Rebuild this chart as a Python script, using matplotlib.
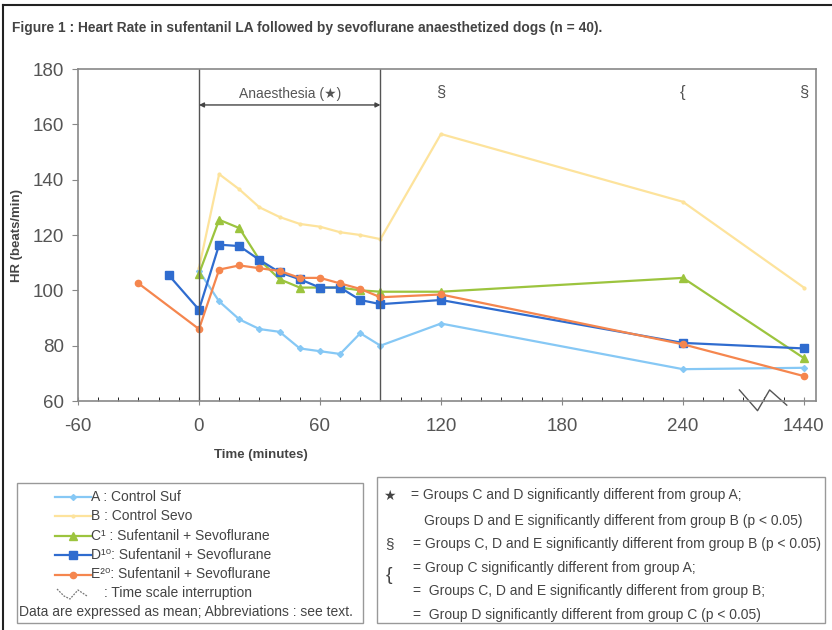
import numpy as np
import matplotlib.pyplot as plt
from matplotlib.lines import Line2D
from matplotlib.patches import Rectangle

plt.rcParams['font.family'] = ['Liberation Sans', 'DejaVu Sans']

# 1440 min is drawn after a scale break, at the position of 300 min
TICK_POS = [-60, 0, 60, 120, 180, 240, 300]
TICK_LABELS = ['-60', '0', '60', '120', '180', '240', '1440']

t_main = [0, 10, 20, 30, 40, 50, 60, 70, 80, 90, 120, 240, 300]
hr_a = [107, 96, 89.5, 86, 85, 79, 78, 77, 84.5, 80, 88, 71.5, 72]
hr_b = [108, 142, 136.5, 130, 126.5, 124, 123, 121, 120, 118.5, 156.5, 132, 101]
hr_c = [106, 125.5, 122.5, 111, 104, 101, 101, 101, 100, 99.5, 99.5, 104.5, 75.5]
t_d = [-15] + t_main
hr_d = [105.5, 93, 116.5, 116, 111, 106.5, 104, 101, 101, 96.5, 95, 96.5, 81, 79]
t_e = [-30] + t_main
hr_e = [102.5, 86, 107.5, 109, 108, 107, 104.5, 104.5, 102.5, 100.5, 97.5, 98.5, 80.5, 69]

sig_pos = [120, 240, 300]
sig_sym = ['§', '{', '§']

break_x = [268, 277, 283, 291.5]
break_y = [64, 56.5, 64, 58.5]

C_A = '#86c8f5'
C_B = '#fde39c'
C_C = '#9cc43e'
C_D = '#2f6ccf'
C_E = '#f5864e'
GREY = '#555555'
TXT = '#444444'

series = [
    (t_main, hr_a, C_A, 'D', 3, 'A : Control Suf'),
    (t_main, hr_b, C_B, 'o', 2, 'B : Control Sevo'),
    (t_main, hr_c, C_C, '^', 6, 'C¹ : Sufentanil + Sevoflurane'),
    (t_d, hr_d, C_D, 's', 6, 'D¹⁰: Sufentanil + Sevoflurane'),
    (t_e, hr_e, C_E, 'o', 4.5, 'E²⁰: Sufentanil + Sevoflurane'),
]

fig = plt.figure(figsize=(8.32, 6.3), dpi=100)
ax = fig.add_axes([78 / 832, 1 - 401 / 630, 738 / 832, 332 / 630])

for t, hr, col, mk, ms, lab in series:
    ax.plot(t, hr, color=col, marker=mk, markersize=ms, lw=1.6,
            markeredgecolor=col)

ax.axvline(0, color=GREY, lw=1)
ax.axvline(90, color=GREY, lw=1)
ax.annotate('', xy=(0, 167), xytext=(90, 167),
            arrowprops=dict(arrowstyle='<|-|>', color=TXT, lw=1,
                            mutation_scale=7, shrinkA=0, shrinkB=0))
ax.text(45, 170.8, 'Anaesthesia (★)', ha='center', va='center',
        fontsize=10, color=GREY)
for x, s in zip(sig_pos, sig_sym):
    ax.text(x, 171.5, s, ha='center', va='center', fontsize=12, color=GREY)

ax.plot(break_x, break_y, color=GREY, lw=1, clip_on=False)

ax.set_xlim(-60, 306)
ax.set_ylim(60, 180)
ax.set_yticks(np.arange(60, 181, 20))
ax.set_xticks(TICK_POS)
ax.set_xticklabels(TICK_LABELS)
ax.set_xticks(np.arange(-60, 301, 10), minor=True)
ax.tick_params(axis='both', labelsize=13.5, labelcolor=GREY, colors='#888888')
ax.tick_params(axis='x', which='major', direction='inout', length=6, pad=9)
ax.tick_params(axis='x', which='minor', direction='in', length=3)
ax.tick_params(axis='y', direction='out', length=4, pad=6)
for sp in ax.spines.values():
    sp.set_color('#888888')
    sp.set_linewidth(1.2)

fig.text(12 / 832, 1 - 28 / 630,
         'Figure 1 : Heart Rate in sufentanil LA followed by sevoflurane anaesthetized dogs (n = 40).',
         fontsize=9.9, fontweight='bold', color=TXT, va='center')
fig.text(261 / 832, 1 - 455 / 630, 'Time (minutes)', fontsize=9.5,
         fontweight='bold', color=TXT, ha='center', va='center')
fig.text(17 / 832, 1 - 235 / 630, 'HR (beats/min)', fontsize=9.5,
         fontweight='bold', color=TXT, ha='center', va='center',
         rotation=90)

# outer frame (top and left only)
fig.add_artist(Line2D([3 / 832, 1], [1 - 5 / 630, 1 - 5 / 630],
                      transform=fig.transFigure, color='#222222', lw=1.5))
fig.add_artist(Line2D([3 / 832, 3 / 832], [0, 1 - 5 / 630],
                      transform=fig.transFigure, color='#222222', lw=1.5))

# left legend box
fig.add_artist(Rectangle((17 / 832, 1 - 623 / 630), 346 / 832, 140 / 630,
                         transform=fig.transFigure, fill=False,
                         edgecolor='#999999', lw=1))
rows = [497, 516, 536, 555, 574.5]
for (t, hr, col, mk, ms, lab), ry in zip(series, rows):
    yy = 1 - ry / 630
    fig.add_artist(Line2D([55 / 832, 91 / 832], [yy, yy], transform=fig.transFigure,
                          color=col, lw=1.6))
    fig.add_artist(Line2D([72.5 / 832], [yy], transform=fig.transFigure,
                          color=col, marker=mk, markersize=ms, markeredgecolor=col))
    fig.text(91 / 832, yy, lab, fontsize=10, color=TXT, va='center',
             family=['Liberation Sans', 'DejaVu Sans'])
zx = np.array([57, 64, 70, 78, 87]) / 832
zy = 1 - np.array([589, 596, 599, 590, 596]) / 630
fig.add_artist(Line2D(zx, zy, transform=fig.transFigure, color='#777777',
                      lw=0.9, ls=(0, (1.5, 1))))
fig.text(104 / 832, 1 - 593.5 / 630, ': Time scale interruption', fontsize=10,
         color=TXT, va='center')
fig.text(19 / 832, 1 - 612 / 630,
         'Data are expressed as mean; Abbreviations : see text.',
         fontsize=10, color=TXT, va='center')

# right legend box
fig.add_artist(Rectangle((377 / 832, 1 - 623 / 630), 448 / 832, 146 / 630,
                         transform=fig.transFigure, fill=False,
                         edgecolor='#999999', lw=1))
fig.text(389 / 832, 1 - 496 / 630, '★', fontsize=10, color=TXT,
         ha='center', va='center', family=['DejaVu Sans'])
fig.text(389 / 832, 1 - 544 / 630, '§', fontsize=11, color=TXT,
         ha='center', va='center')
fig.text(389 / 832, 1 - 576 / 630, '{', fontsize=14, color=TXT,
         ha='center', va='center')
notes = [
    (411, 495, '= Groups C and D significantly different from group A;'),
    (424, 521, 'Groups D and E significantly different from group B (p < 0.05)'),
    (413, 544, '= Groups C, D and E significantly different from group B (p < 0.05)'),
    (413, 568, '= Group C significantly different from group A;'),
    (413, 591.5, '=  Groups C, D and E significantly different from group B;'),
    (413, 615, '=  Group D significantly different from group C (p < 0.05)'),
]
for nx, ny, s in notes:
    fig.text(nx / 832, 1 - ny / 630, s, fontsize=10, color=TXT, va='center')

fig.savefig('out.png', dpi=100)
